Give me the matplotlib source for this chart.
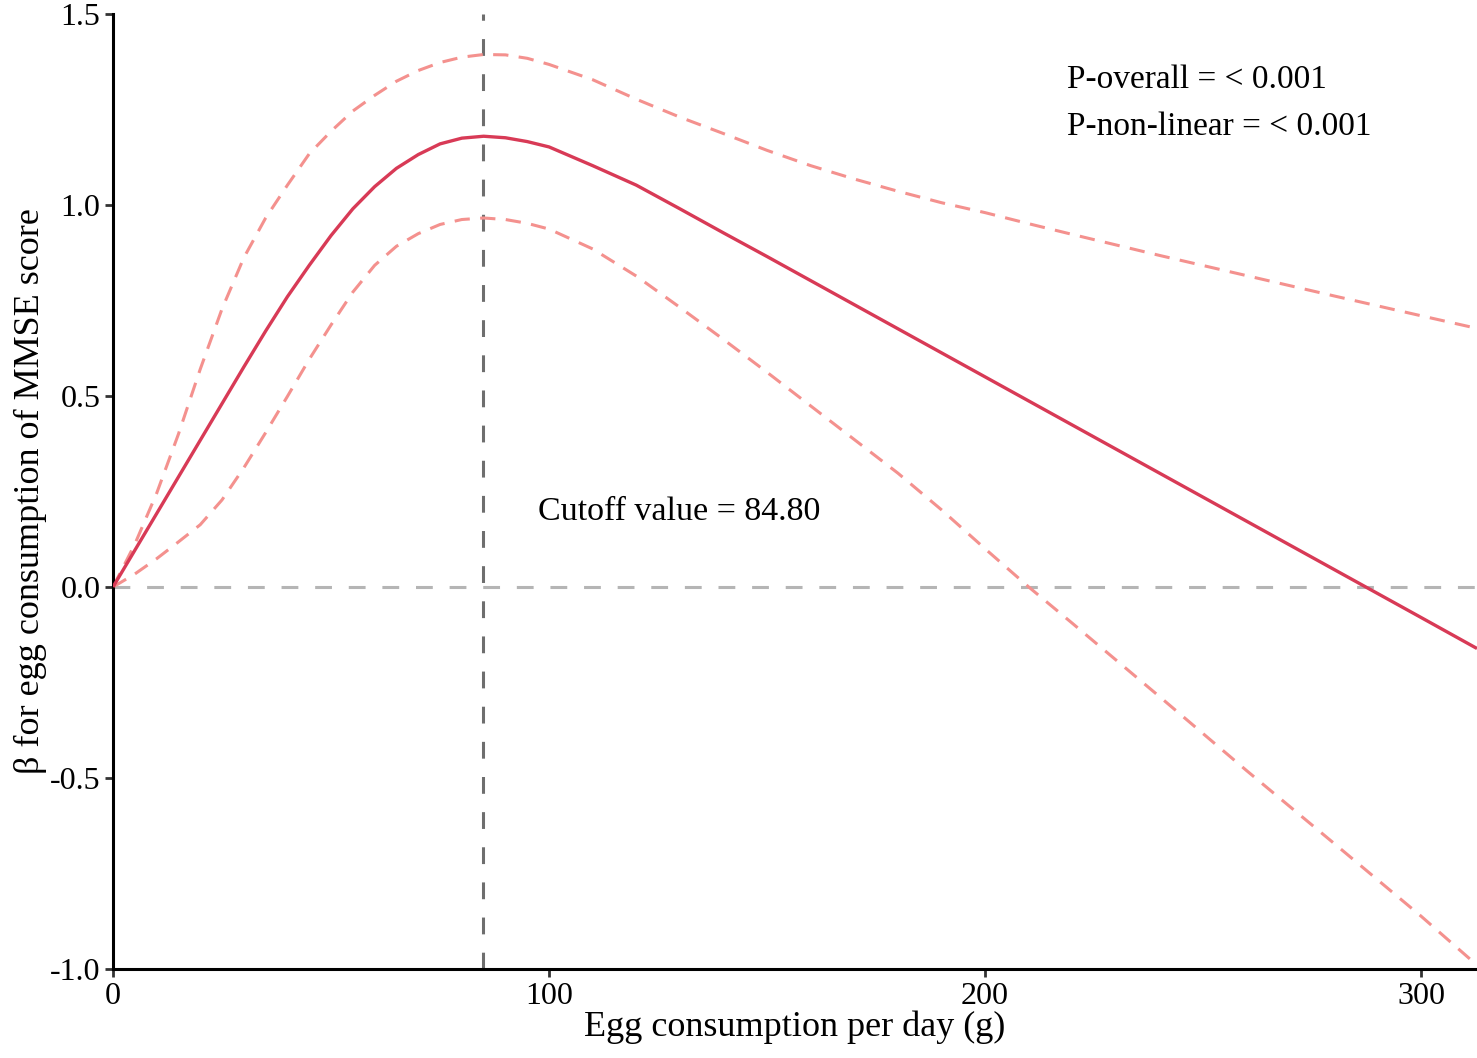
import matplotlib
matplotlib.use("Agg")
import matplotlib.pyplot as plt

# ---- data ----
egg_g = [0, 5, 10, 15, 20, 25, 30, 35, 40, 45, 50, 55, 60, 65, 70, 75, 80, 85,
         90, 95, 100, 110, 120, 130, 140, 150, 160, 170, 180, 190, 200, 210,
         220, 240, 260, 280, 300, 312.8]
beta = [0.000, 0.096, 0.192, 0.288, 0.384, 0.480, 0.576, 0.670, 0.760, 0.842,
        0.920, 0.990, 1.048, 1.096, 1.132, 1.160, 1.175, 1.180, 1.176, 1.166,
        1.152, 1.103, 1.052, 0.990, 0.927, 0.865, 0.802, 0.739, 0.676, 0.613,
        0.550, 0.487, 0.424, 0.298, 0.172, 0.046, -0.080, -0.161]
upper = [0.000, 0.112, 0.245, 0.400, 0.570, 0.728, 0.862, 0.966, 1.052, 1.134,
         1.193, 1.246, 1.287, 1.324, 1.352, 1.373, 1.387, 1.394, 1.393, 1.384,
         1.368, 1.328, 1.277, 1.230, 1.187, 1.143, 1.103, 1.068, 1.036, 1.006,
         0.980, 0.951, 0.923, 0.868, 0.815, 0.762, 0.710, 0.677]
lower = [0.000, 0.034, 0.074, 0.118, 0.163, 0.228, 0.312, 0.404, 0.499, 0.596,
         0.686, 0.772, 0.842, 0.892, 0.925, 0.949, 0.962, 0.966, 0.962, 0.952,
         0.937, 0.885, 0.814, 0.732, 0.648, 0.562, 0.474, 0.386, 0.298, 0.202,
         0.100, 0.000, -0.095, -0.287, -0.481, -0.671, -0.862, -0.990]
cutoff = 84.80
x_ticks = [0, 100, 200, 300]
y_ticks = [-1.0, -0.5, 0.0, 0.5, 1.0, 1.5]
y_tick_labels = ["-1.0", "-0.5", "0.0", "0.5", "1.0", "1.5"]

plt.rcParams["font.family"] = ["Liberation Serif", "DejaVu Serif"]
plt.rcParams["axes.unicode_minus"] = False

fig = plt.figure(figsize=(14.77, 10.58), dpi=100)
ax = fig.add_axes([113 / 1477, 89 / 1058, 1 - 113 / 1477, (969 - 14) / 1058])

ax.axhline(0, color="#b5b5b5", lw=2.2, dashes=(5.5, 5.5), zorder=1)
ax.axvline(cutoff, color="#6e6e6e", lw=2.2, dashes=(5.5, 6), zorder=1)

ax.plot(egg_g, upper, color="#f4918e", lw=2.2, dashes=(5, 3.4), zorder=2)
ax.plot(egg_g, lower, color="#f4918e", lw=2.2, dashes=(5, 3.4), zorder=2)
ax.plot(egg_g, beta, color="#d83a56", lw=2.4, zorder=3, solid_capstyle="butt")

ax.set_xlim(0, 312.8)
ax.set_ylim(-1.0, 1.5)
ax.set_xticks(x_ticks)
ax.set_xticklabels([str(t) for t in x_ticks])
ax.set_yticks(y_ticks)
ax.set_yticklabels(y_tick_labels)

for side in ["top", "right"]:
    ax.spines[side].set_visible(False)
for side in ["left", "bottom"]:
    ax.spines[side].set_linewidth(2.2)
    ax.spines[side].set_color("black")
    ax.spines[side].set_capstyle("projecting")

ax.tick_params(axis="both", direction="out", length=6, width=2.0,
               color="#333333", labelsize=23, labelcolor="black", pad=3)

ax.set_xlabel("Egg consumption per day (g)", fontsize=26, labelpad=0)
ax.set_ylabel("β for egg consumption of MMSE score", fontsize=26, labelpad=2)

ax.text(218.8, 1.329, "P-overall = < 0.001", fontsize=24, ha="left", va="center")
ax.text(218.8, 1.205, "P-non-linear = < 0.001", fontsize=24, ha="left", va="center")
ax.text(97.5, 0.198, "Cutoff value = 84.80", fontsize=24.5, ha="left", va="center")

fig.savefig("out.png", dpi=100)
